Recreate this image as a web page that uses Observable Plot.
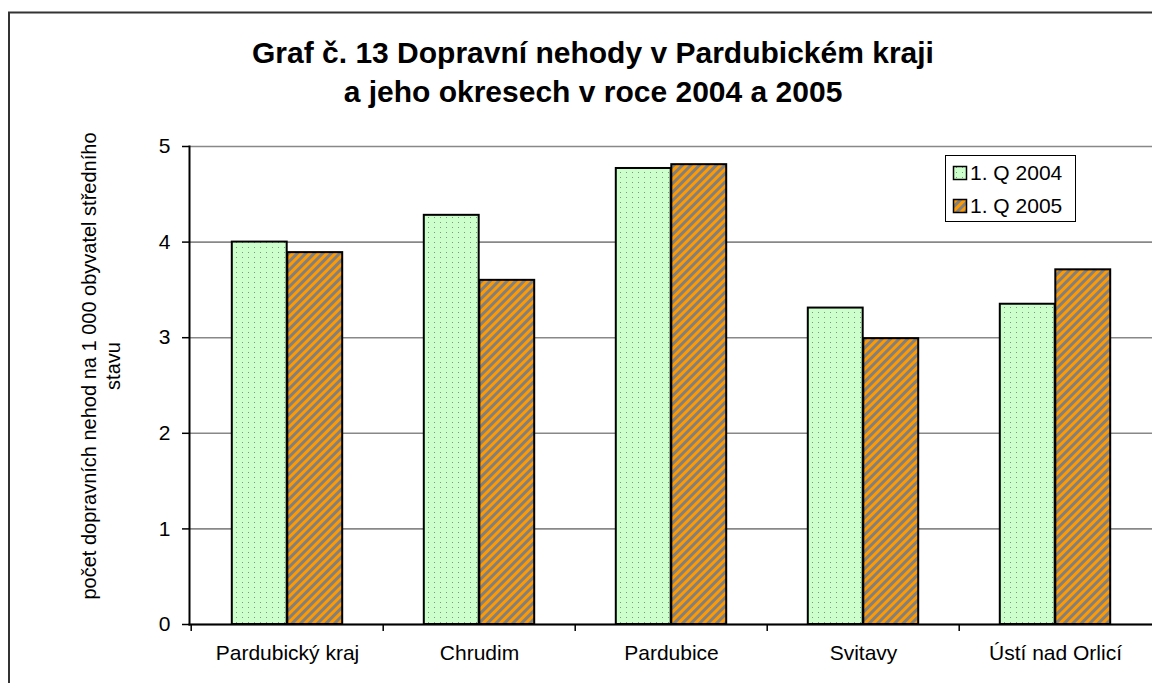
<!DOCTYPE html>
<html>
<head>
<meta charset="utf-8">
<script src="https://cdn.jsdelivr.net/npm/d3@7"></script>
<script src="https://cdn.jsdelivr.net/npm/@observablehq/plot@0.6"></script>
<style>
  html, body { margin: 0; padding: 0; background: #fff; overflow: hidden; }
  #wrap { position: relative; width: 1152px; height: 683px; overflow: hidden; font-family: "Liberation Sans", Arial, sans-serif; }
  #chart { position: absolute; left: 0; top: 120px; }
  #overlay { position: absolute; left: 0; top: 0; pointer-events: none; }
</style>
</head>
<body>
<div id="wrap">
  <div id="chart"></div>
  <svg id="overlay" width="1152" height="683"></svg>
</div>
<script>
const categories = ["Pardubický kraj", "Chrudim", "Pardubice", "Svitavy", "Ústí nad Orlicí"];
const series = ["1. Q 2004", "1. Q 2005"];
const values2004 = [4.00, 4.28, 4.77, 3.31, 3.35];
const values2005 = [3.89, 3.60, 4.81, 2.99, 3.71];
const yTicks = [0, 1, 2, 3, 4, 5];
const titleLines = ["Graf č. 13 Dopravní nehody v Pardubickém kraji", "a jeho okresech v roce 2004 a 2005"];
const yLabelLines = ["počet dopravních nehod na 1 000 obyvatel středního", "stavu"];

const data2004 = categories.map((c, i) => ({cat: c, v: values2004[i]}));
const data2005 = categories.map((c, i) => ({cat: c, v: values2005[i]}));

function addPatterns(svgSel, prefix) {
  const defs = svgSel.insert("defs", ":first-child");
  const g = defs.append("pattern").attr("id", prefix + "Green")
    .attr("patternUnits", "userSpaceOnUse").attr("width", 6).attr("height", 5);
  g.append("rect").attr("width", 6).attr("height", 5).attr("fill", "#ccffcc");
  g.append("rect").attr("x", 2).attr("y", 2).attr("width", 1).attr("height", 1).attr("fill", "#7a9a7a");
  const o = defs.append("pattern").attr("id", prefix + "Orange")
    .attr("patternUnits", "userSpaceOnUse").attr("width", 6).attr("height", 6)
    .attr("patternTransform", "rotate(45)");
  o.append("rect").attr("width", 6).attr("height", 6).attr("fill", "#808080");
  o.append("rect").attr("width", 3).attr("height", 6).attr("fill", "#ff9900");
}

const W = 1152, H = 563;
const mL = 189, mR = 0;
const bw = (W - mL - mR) / categories.length;
const barW = 55.5;
const outer = (bw - 2 * barW) / 2;
const inner = bw - outer - barW;

const plot = Plot.plot({
  width: W,
  height: H,
  marginTop: 26,
  marginBottom: 59,
  marginLeft: mL,
  marginRight: mR,
  style: {fontFamily: "Liberation Sans, Arial, sans-serif", fontSize: "21px", color: "black", background: "transparent", overflow: "visible"},
  x: {type: "band", domain: categories, padding: 0, axis: null},
  y: {domain: [0, 5], axis: null},
  marks: [
    Plot.gridY(yTicks, {stroke: "#888", strokeOpacity: 1, strokeWidth: 1.6}),
    Plot.barY(data2004, {x: "cat", y: "v", fill: "url(#pGreen)", stroke: "black", strokeWidth: 2, insetLeft: outer, insetRight: inner}),
    Plot.barY(data2005, {x: "cat", y: "v", fill: "url(#pOrange)", stroke: "black", strokeWidth: 2, insetLeft: inner, insetRight: outer}),
    Plot.frame({anchor: "left", stroke: "black", strokeWidth: 2}),
    Plot.frame({anchor: "bottom", stroke: "black", strokeWidth: 2}),
    Plot.ruleX(categories, {x: d => d, y1: 0, y2: 0, dx: -bw / 2, insetBottom: -7, stroke: "black", strokeWidth: 1.5}),
    Plot.axisY({ticks: yTicks, tickFormat: d3.format("d"), tickSize: 7, tickPadding: 12, fontSize: 21, label: null, stroke: "black", strokeWidth: 1.5}),
    Plot.axisX({tickSize: 0, tickPadding: 21, fontSize: 21, label: null})
  ]
});
addPatterns(d3.select(plot), "p");
document.getElementById("chart").appendChild(plot);

// Overlay: frame, title, y label, legend
const ov = d3.select("#overlay");
addPatterns(ov, "l");
ov.append("path").attr("d", "M9,700 L9,12.5 L1160,12.5").attr("fill", "none").attr("stroke", "#333").attr("stroke-width", 2);

const tt = ov.append("text").attr("font-family", "Liberation Sans, Arial, sans-serif")
  .attr("font-weight", "bold").attr("font-size", 30).attr("text-anchor", "middle").attr("fill", "black");
titleLines.forEach((t, i) => tt.append("tspan").attr("x", 593).attr("y", 63 + i * 39).text(t));

const yl = ov.append("text").attr("font-family", "Liberation Sans, Arial, sans-serif")
  .attr("font-size", 20).attr("text-anchor", "middle").attr("fill", "black")
  .attr("transform", "translate(0,366) rotate(-90)");
yLabelLines.forEach((t, i) => yl.append("tspan").attr("x", 0).attr("y", 96 + i * 24).text(t));

const lg = ov.append("g");
lg.append("rect").attr("x", 945.5).attr("y", 155.5).attr("width", 130).attr("height", 66)
  .attr("fill", "white").attr("stroke", "black").attr("stroke-width", 1);
const fills = ["url(#lGreen)", "url(#lOrange)"];
series.forEach((s, i) => {
  const y0 = 166.5 + i * 33;
  lg.append("rect").attr("x", 953.5).attr("y", y0).attr("width", 13).attr("height", 13)
    .attr("fill", fills[i]).attr("stroke", "black").attr("stroke-width", 1.5);
  lg.append("text").attr("x", 970).attr("y", 180 + i * 33)
    .attr("font-family", "Liberation Sans, Arial, sans-serif").attr("font-size", 21).attr("fill", "black").text(s);
});
</script>
</body>
</html>
